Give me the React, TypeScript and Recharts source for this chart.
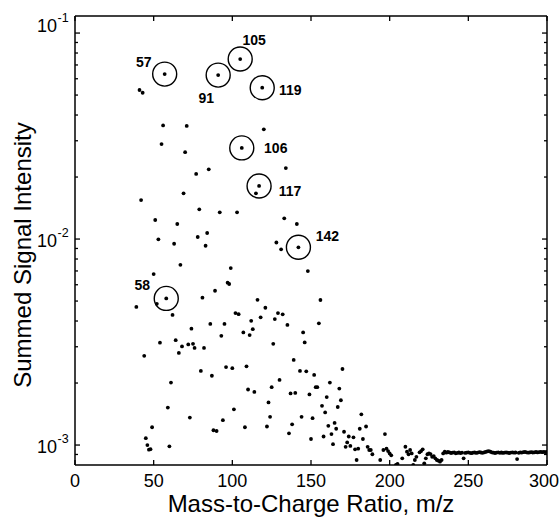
import React from 'react';
import { ScatterChart, Scatter, XAxis, YAxis, ReferenceLine } from 'recharts';

// m/z 39-201: fragment region [m/z, summed intensity]
const fragmentRegion: [number, number][] = [
  [39, 0.00468], [41, 0.0529], [42, 0.01546], [43, 0.0513], [44, 0.00271], [45, 0.00108],
  [46, 0.001], [47, 0.000949], [48, 0.000955], [49, 0.00122], [50, 0.00676], [51, 0.01237],
  [52, 0.00485], [53, 0.00997], [54, 0.00314], [55, 0.0289], [56, 0.0356], [57, 0.0632],
  [58, 0.00515], [59, 0.00152], [60, 0.000986], [61, 0.00201], [62, 0.00428], [63, 0.00949],
  [64, 0.00323], [65, 0.01183], [66, 0.0028], [67, 0.0075], [68, 0.00301], [69, 0.01667],
  [70, 0.0264], [71, 0.0354], [72, 0.00308], [73, 0.00136], [74, 0.00367], [75, 0.0031],
  [76, 0.00296], [77, 0.0207], [78, 0.01023], [79, 0.01394], [80, 0.00229], [81, 0.00519],
  [82, 0.00296], [83, 0.00928], [84, 0.0107], [85, 0.0218], [86, 0.00387], [87, 0.00217],
  [88, 0.00118], [89, 0.00561], [90, 0.00117], [91, 0.0625], [92, 0.01348], [93, 0.00339],
  [94, 0.00132], [95, 0.00387], [96, 0.00239], [97, 0.00614], [98, 0.00605], [99, 0.00723],
  [100, 0.00236], [101, 0.00149], [102, 0.00437], [103, 0.01348], [104, 0.00432], [105, 0.0748],
  [106, 0.0277], [107, 0.00352], [108, 0.00122], [109, 0.00241], [110, 0.00186], [111, 0.00342],
  [112, 0.00401], [113, 0.00365], [114, 0.00181], [115, 0.01667], [116, 0.00507], [117, 0.0181],
  [118, 0.00417], [119, 0.0543], [120, 0.0341], [121, 0.00464], [122, 0.00123], [123, 0.00161],
  [124, 0.00137], [125, 0.00191], [126, 0.0031], [127, 0.00409], [128, 0.00962], [129, 0.00437],
  [130, 0.00207], [131, 0.00891], [132, 0.00431], [133, 0.0126], [134, 0.0221], [135, 0.00383],
  [136, 0.00114], [137, 0.00178], [138, 0.00126], [139, 0.00259], [140, 0.00179], [141, 0.01183],
  [142, 0.00912], [143, 0.00229], [144, 0.00137], [145, 0.00352], [146, 0.00315], [147, 0.00228],
  [148, 0.00699], [149, 0.00176], [150, 0.00107], [151, 0.00135], [152, 0.00219], [153, 0.00191],
  [154, 0.00191], [155, 0.0039], [156, 0.00506], [157, 0.00155], [158, 0.0011], [159, 0.00144],
  [160, 0.00171], [161, 0.00124], [162, 0.00201], [163, 0.00113], [164, 0.00101], [165, 0.00128],
  [166, 0.0012], [167, 0.00153], [168, 0.00188], [169, 0.00165], [170, 0.00234], [171, 0.00116],
  [172, 0.00098], [173, 0.00103], [174, 0.0011], [175, 0.00099], [177, 0.00109], [178, 0.000953],
  [179, 0.000846], [180, 0.00096], [181, 0.0012], [182, 0.00141], [183, 0.00107], [185, 0.00123],
  [186, 0.00098], [187, 0.000946], [188, 0.000946], [189, 0.000902], [194, 0.000846], [196, 0.000946],
  [197, 0.00113], [198, 0.00096], [199, 0.000935], [200, 0.000911], [201, 0.000891],
];

// m/z 204-300: background region [m/z, summed intensity]
const backgroundRegion: [number, number][] = [
  [204, 0.000802], [205, 0.000809], [208, 0.000862], [210, 0.000981], [211, 0.000928], [212, 0.000902],
  [213, 0.000946], [214, 0.000911], [215, 0.000802], [216, 0.000846], [217, 0.000877], [219, 0.000922],
  [220, 0.000935], [221, 0.000953], [222, 0.000815], [223, 0.000862], [224, 0.000902], [225, 0.000911],
  [226, 0.000904], [227, 0.000877], [228, 0.000884], [229, 0.000862], [230, 0.000846], [231, 0.00084],
  [232, 0.00083], [233, 0.000846], [234, 0.000911], [235, 0.000928], [236, 0.000918], [237, 0.000925],
  [238, 0.000921], [239, 0.000915], [240, 0.000918], [241, 0.000922], [242, 0.000912], [243, 0.000916],
  [244, 0.00092], [245, 0.000914], [246, 0.000918], [247, 0.000862], [248, 0.000916], [249, 0.000919],
  [250, 0.000922], [251, 0.000917], [252, 0.000913], [253, 0.000918], [254, 0.000921], [255, 0.000916],
  [256, 0.000919], [257, 0.000924], [258, 0.00092], [259, 0.000917], [260, 0.000921], [261, 0.000926],
  [262, 0.000931], [263, 0.000934], [264, 0.000928], [265, 0.000921], [266, 0.000918], [267, 0.000915],
  [268, 0.000919], [269, 0.000922], [270, 0.000917], [271, 0.00092], [272, 0.000916], [273, 0.000919],
  [274, 0.000921], [275, 0.000918], [276, 0.000915], [277, 0.000919], [278, 0.000922], [279, 0.000918],
  [280, 0.00092], [281, 0.000855], [282, 0.000917], [283, 0.000921], [284, 0.000919], [285, 0.000923],
  [286, 0.000926], [287, 0.000922], [288, 0.000918], [289, 0.000921], [290, 0.000924], [291, 0.00092],
  [292, 0.000922], [293, 0.000925], [294, 0.000921], [295, 0.000924], [296, 0.000927], [297, 0.000923],
  [298, 0.000926], [299, 0.000924], [300, 0.000925],
];

const circledPeaks = [57, 58, 91, 105, 106, 117, 119, 142];

const xTicks = [0, 50, 100, 150, 200, 250, 300];
const yDecades = [0.001, 0.01, 0.1];
const yMinorTicks = [
  0.0009, 0.002, 0.003, 0.004, 0.005, 0.006, 0.007, 0.008, 0.009,
  0.02, 0.03, 0.04, 0.05, 0.06, 0.07, 0.08, 0.09,
];
const xDomain: [number, number] = [0, 300];
const yDomain: [number, number] = [0.0008, 0.121];

// ---- layout / style (not data) ----
const W = 560;
const H = 519;
const PLOT_LEFT = 75;
const PLOT_RIGHT = 547;
const PLOT_TOP = 16;
const PLOT_BOTTOM = 465;
const FONT = '"Liberation Sans", Arial, Helvetica, sans-serif';
const labelOffsets: Record<number, [number, number]> = {
  57: [-21, -12],
  58: [-24, -13],
  91: [-12, 23],
  105: [14, -19],
  106: [34, 0],
  117: [31, 5],
  119: [28, 2],
  142: [29, -11],
};

const allPoints = [...fragmentRegion, ...backgroundRegion].map(([mz, intensity]) => ({ mz, intensity }));
const peakPoints = circledPeaks.map((mz) => {
  const found = fragmentRegion.find((p) => p[0] === mz);
  return { mz, intensity: found ? found[1] : 0 };
});
const yTicks = [...yDecades, ...yMinorTicks].sort((a, b) => a - b);

const XTick = (props: any) => {
  const { x, payload } = props;
  // keep the last label inside the picture edge
  const textX = x + 16 > W ? W - 1 : x;
  const anchor = x + 16 > W ? 'end' : 'middle';
  return (
    <g>
      <line x1={x} x2={x} y1={PLOT_BOTTOM} y2={PLOT_BOTTOM - 5} stroke="#000" strokeWidth={1.3} />
      <line x1={x} x2={x} y1={PLOT_TOP} y2={PLOT_TOP + 5} stroke="#000" strokeWidth={1.3} />
      <text x={textX} y={487} textAnchor={anchor} fontSize={18} fontFamily={FONT} fill="#000">
        {payload.value}
      </text>
    </g>
  );
};

const YTick = (props: any) => {
  const { y, payload } = props;
  const v = payload.value as number;
  const isMajor = yDecades.some((d) => Math.abs(d - v) / d < 1e-6);
  const len = isMajor ? 5 : 3;
  const exp = Math.round(Math.log10(v));
  const shift = exp === -1 ? -9 : 0;
  return (
    <g>
      <line x1={PLOT_LEFT} x2={PLOT_LEFT + len} y1={y} y2={y} stroke="#000" strokeWidth={1.3} />
      <line x1={PLOT_RIGHT} x2={PLOT_RIGHT - len} y1={y} y2={y} stroke="#000" strokeWidth={1.3} />
      {isMajor && (
        <g fontFamily={FONT} fill="#000">
          <text x={57} y={y + 8 + shift} textAnchor="end" fontSize={18}>
            10
          </text>
          <text x={57.5} y={y - 2 + shift} textAnchor="start" fontSize={12.5}>
            {`-${-exp}`}
          </text>
        </g>
      )}
    </g>
  );
};

const Dot = (props: any) => <circle cx={props.cx} cy={props.cy} r={1.9} fill="#000" />;

const PeakMarker = (props: any) => {
  const { cx, cy, payload } = props;
  const off = labelOffsets[payload.mz] || [20, 0];
  return (
    <g>
      <circle cx={cx} cy={cy} r={12} fill="none" stroke="#000" strokeWidth={1.4} />
      <text
        x={cx + off[0]}
        y={cy + off[1]}
        textAnchor="middle"
        dominantBaseline="central"
        fontWeight="bold"
        fontSize={14}
        fontFamily={FONT}
        fill="#000"
      >
        {payload.mz}
      </text>
    </g>
  );
};

const XTitle = () => (
  <text x={(PLOT_LEFT + PLOT_RIGHT) / 2} y={512} textAnchor="middle" fontSize={24} fontFamily={FONT} fill="#000">
    Mass-to-Charge Ratio, m/z
  </text>
);

const YTitle = () => (
  <text
    x={31}
    y={255}
    transform="rotate(-90, 31, 255)"
    textAnchor="middle"
    fontSize={24}
    fontFamily={FONT}
    fill="#000"
  >
    Summed Signal Intensity
  </text>
);

export default function App() {
  return (
    <div style={{ position: 'absolute', left: 0, top: 0, width: W, height: H, background: '#fff' }}>
      <ScatterChart
        width={W}
        height={H}
        margin={{ top: PLOT_TOP, right: W - PLOT_RIGHT, bottom: 0, left: 0 }}
      >
        <XAxis
          type="number"
          dataKey="mz"
          domain={xDomain}
          ticks={xTicks}
          interval={0}
          height={H - PLOT_BOTTOM}
          tickLine={false}
          axisLine={{ stroke: '#000', strokeWidth: 1.5 }}
          tick={XTick}
          label={XTitle}
          allowDataOverflow
        />
        <YAxis
          type="number"
          dataKey="intensity"
          scale="log"
          domain={yDomain}
          ticks={yTicks}
          interval={0}
          width={PLOT_LEFT}
          tickLine={false}
          axisLine={{ stroke: '#000', strokeWidth: 1.5 }}
          tick={YTick}
          label={YTitle}
          allowDataOverflow
        />
        <ReferenceLine y={yDomain[1]} stroke="#000" strokeWidth={1.5} ifOverflow="visible" />
        <ReferenceLine x={xDomain[1]} stroke="#000" strokeWidth={1.5} ifOverflow="visible" />
        <Scatter data={allPoints} shape={Dot} isAnimationActive={false} />
        <Scatter data={peakPoints} shape={PeakMarker} isAnimationActive={false} />
      </ScatterChart>
    </div>
  );
}
